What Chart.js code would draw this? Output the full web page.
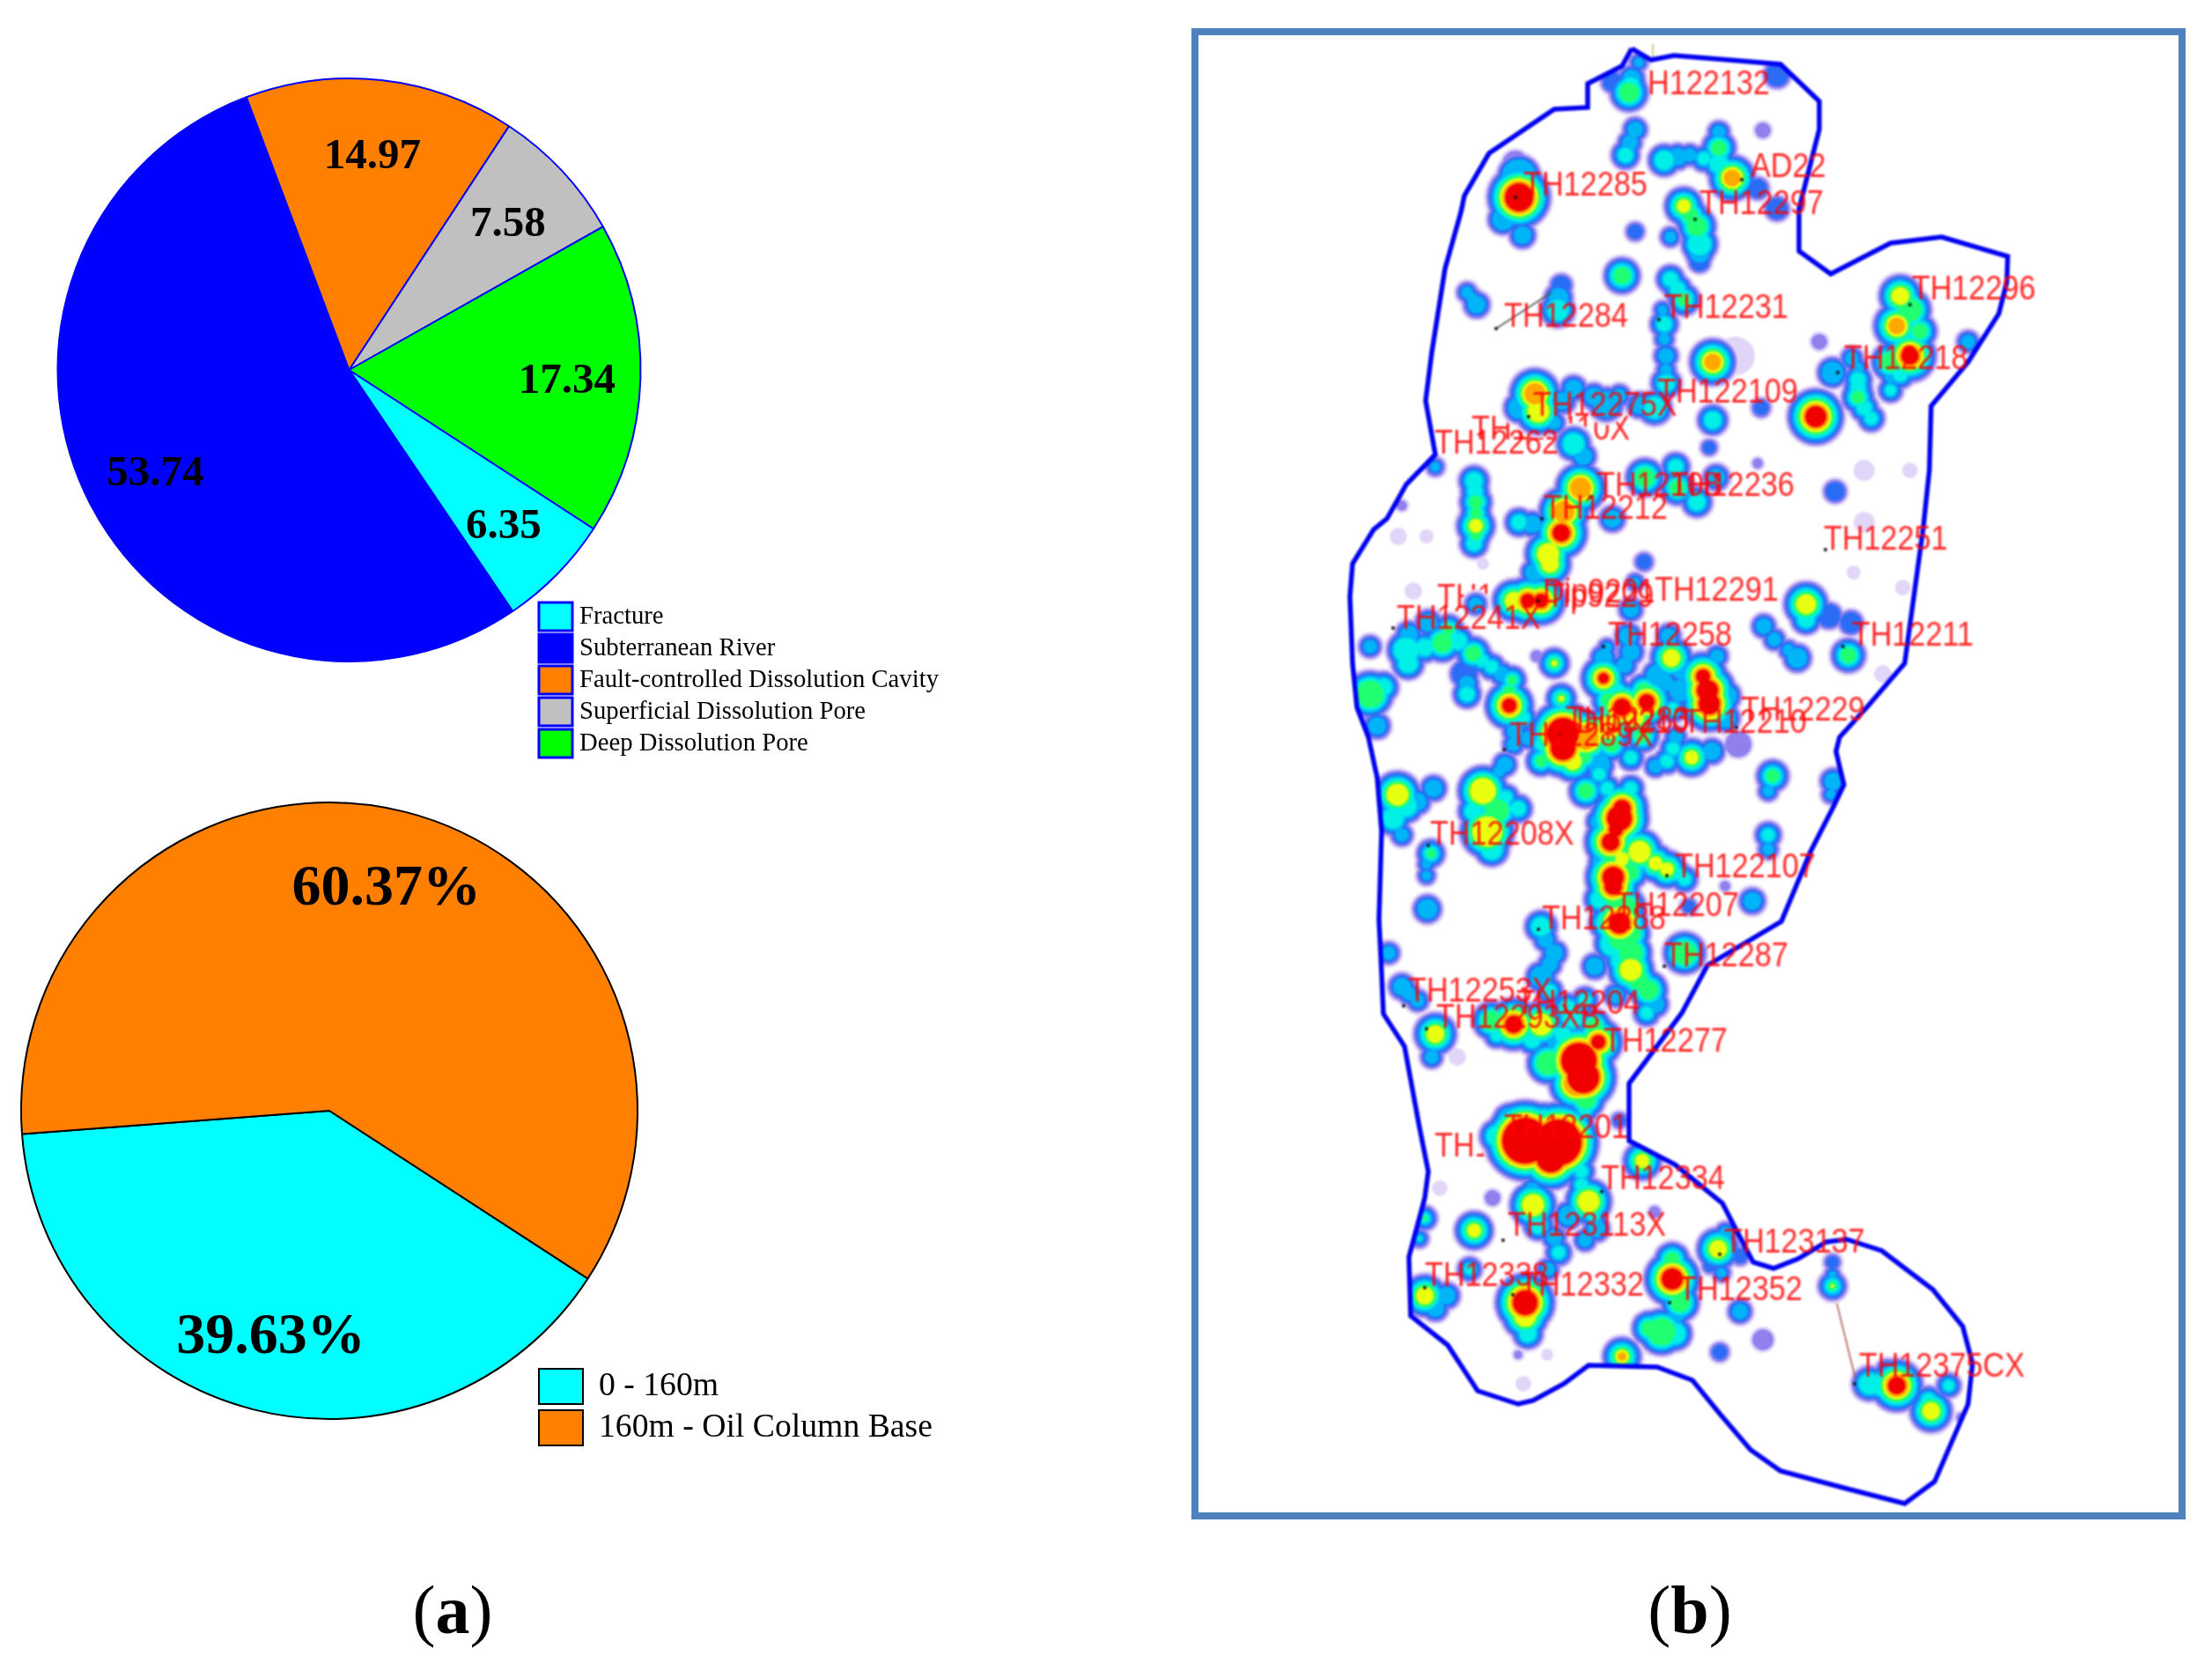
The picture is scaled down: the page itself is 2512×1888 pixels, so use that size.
<!DOCTYPE html>
<html>
<head>
<meta charset="utf-8">
<title>Reservoir space and well map</title>
<script src="https://cdn.jsdelivr.net/npm/chart.js@4"></script>
<style>
  html, body { margin: 0; background: #fff; }
  body { position: relative; width: 2512px; height: 1888px; overflow: hidden; }
  canvas { position: absolute; }
  #chartType { left: 0; top: 0; }
  #chartColumn { left: 0; top: 880px; }
  #frame { position: absolute; left: 1353px; top: 32px; width: 1129px; height: 1693px; box-sizing: border-box; border: 8px solid #4f81bd; overflow: hidden; }
  #chartMap { left: -8px; top: -8px; filter: blur(1.2px); }
  .caption { position: absolute; top: 1783px; font: 78px "Liberation Serif", serif; transform: translateX(-50%); }
  .caption b { font-weight: bold; }
</style>
</head>
<body>
<canvas id="chartType" width="1100" height="880"></canvas>
<canvas id="chartColumn" width="1100" height="800"></canvas>
<div id="frame"><canvas id="chartMap" width="1129" height="1693"></canvas></div>
<div class="caption" style="left:514px">(<b>a</b>)</div>
<div class="caption" style="left:1919px">(<b>b</b>)</div>

<script>
// pie 1
const typeLabels = ["Fracture", "Subterranean River", "Fault-controlled Dissolution Cavity", "Superficial Dissolution Pore", "Deep Dissolution Pore"];
const typeValues = [6.35, 53.74, 14.97, 7.58, 17.34];

// pie 2
const columnLabels = ["0 - 160m", "160m - Oil Column Base"];
const columnValues = [39.63, 60.37];

// map boundary (page px)
const boundary = [
  [1853,55],[1875,68],[1901,63],[1963,68],[2022,73],[2066,115],[2066,147],[2055,190],[2043,237],[2043,285],
  [2079,311],[2147,276],[2205,269],[2280,291],[2279,320],[2270,356],[2235,411],[2193,461],[2191,534],[2184,600],
  [2163,753],[2120,803],[2089,837],[2085,853],[2094,891],[2082,916],[2056,967],[2023,1046],[1939,1096],[1910,1150],
  [1850,1230],[1850,1295],[1902,1322],[1956,1366],[1971,1395],[1991,1433],[2014,1440],[2042,1429],[2074,1410],[2097,1407],
  [2137,1420],[2195,1464],[2229,1506],[2240,1548],[2235,1594],[2197,1682],[2163,1707],[2097,1690],[2022,1670],[1988,1646],
  [1953,1605],[1922,1567],[1882,1552],[1804,1550],[1776,1571],[1741,1590],[1724,1594],[1678,1579],[1644,1527],[1602,1494],
  [1600,1427],[1618,1360],[1622,1330],[1612,1280],[1595,1188],[1571,1151],[1569,1105],[1566,1044],[1569,944],[1564,883],
  [1554,837],[1541,803],[1536,753],[1533,677],[1536,640],[1560,601],[1575,589],[1597,550],[1630,516],[1619,455],
  [1626,400],[1641,305],[1659,241],[1663,222],[1691,174],[1765,124],[1803,122],[1803,95],[1842,75],[1853,55],
];

// heat spots: x, y, outer radius, top colour level
const heatSpots = [
  [1861,71,10,3],[1853,89,14,3],[1850,105,20,5],[1831,93,12,2],[2018,85,14,2],[1857,147,13,3],[1846,176,15,4],[2002,148,12,1],
  [1890,182,17,4],[1919,176,12,3],[1952,168,18,5],[1952,186,17,4],[1967,202,24,7],[1996,214,12,2],[2018,237,13,2],[1912,234,20,6],
  [1927,257,20,5],[1930,277,19,4],[1930,297,12,2],[1897,269,11,3],[1857,263,10,2],[1725,224,34,8],[1725,200,22,3],[1707,249,16,3],
  [1729,267,14,3],[1721,186,18,1],[1842,313,19,5],[1677,346,14,3],[1666,332,11,3],[1773,324,12,2],[1769,352,18,4],[1897,317,15,4],
  [1912,340,17,5],[1890,368,15,4],[1892,404,13,3],[1892,435,16,4],[1945,411,24,7],[2066,388,12,1],[1971,404,22,0],[2062,473,30,8],
  [2110,451,17,5],[2110,431,15,4],[2125,475,14,4],[2081,423,16,3],[2103,407,12,3],[2158,336,22,6],[2169,352,22,5],[2154,370,24,7],
  [2180,376,18,5],[2169,404,28,8],[2147,411,20,5],[2147,443,13,4],[2235,388,12,3],[2000,463,10,2],[1743,447,26,7],[1747,467,24,6],
  [1725,463,16,3],[1787,441,14,3],[1824,459,18,3],[1879,463,18,4],[1839,449,12,3],[1945,477,16,4],[1941,508,9,2],[1787,504,18,4],
  [1798,518,14,3],[1630,530,10,3],[1674,546,16,4],[1676,570,17,5],[1676,597,20,6],[1674,617,15,4],[1868,542,20,5],[1903,530,15,4],
  [1905,554,18,5],[1927,570,16,4],[1949,542,14,3],[1996,526,9,1],[2084,558,12,2],[1795,554,26,7],[1773,605,28,8],[1776,581,26,7],
  [1831,589,14,3],[1725,593,15,4],[1758,629,24,6],[1592,574,9,1],[1588,609,10,0],[1620,609,8,0],[2117,534,12,0],[2117,593,12,0],[2169,534,9,0],
  [1760,640,22,6],[1742,650,14,3],[1684,640,7,0],[1867,638,10,2],[1857,661,10,3],[1852,692,13,3],[1849,722,14,3],[1735,682,26,8],
  [1750,682,26,8],[1719,682,22,6],[1605,671,10,0],[1676,686,12,3],[1556,734,12,3],[1597,738,20,4],[1599,753,17,4],[1638,730,20,5],
  [1622,707,14,3],[1645,715,16,5],[1673,742,18,5],[1694,757,14,4],[1663,765,15,2],[1666,788,15,4],[1717,772,15,5],[1714,801,26,8],
  [1556,788,24,5],[1571,780,16,4],[1564,824,14,3],[1765,753,16,6],[1745,745,10,1],[1773,793,16,6],[1821,770,24,8],[1821,747,14,3],
  [1827,795,18,5],[1898,747,22,6],[1895,722,13,3],[1883,768,17,3],[1867,784,18,5],[1870,797,27,8],[1842,803,28,8],[1939,784,30,8],
  [1941,799,30,8],[1934,768,26,8],[1908,784,16,3],[1775,833,36,8],[1775,849,32,8],[1801,837,28,7],[1827,826,24,6],[1857,814,22,6],
  [1786,864,22,6],[1750,864,16,5],[1816,868,16,3],[1852,860,14,4],[1893,864,14,4],[1921,860,20,6],[1903,837,12,3],[1944,853,14,3],
  [1719,845,12,3],[1709,868,13,3],[1694,883,12,2],[1801,898,18,5],[1852,895,14,4],[1832,910,15,4],[1816,879,14,4],[1974,845,18,1],
  [2013,881,17,5],[2008,898,11,3],[2082,887,14,3],[2079,902,10,3],[2008,948,14,4],[2008,964,11,3],[2051,686,23,6],[2051,703,16,4],
  [2077,699,14,2],[2003,711,13,3],[2031,738,11,3],[2041,747,15,3],[2015,726,12,3],[2099,744,18,5],[2102,707,13,2],[2161,667,9,0],
  [2105,650,8,0],[2138,765,10,0],[1587,902,24,6],[1582,929,18,4],[1592,948,12,3],[1628,895,14,3],[1610,910,14,3],[1684,898,26,6],
  [1724,918,15,4],[1689,944,28,6],[1694,964,18,4],[1673,921,16,4],[1625,969,15,5],[1620,994,10,3],[1621,1032,15,3],[1839,929,32,8],
  [1842,918,28,8],[1829,956,28,8],[1862,967,24,6],[1893,987,20,6],[1913,998,14,4],[1832,996,30,8],[1832,1006,28,8],[1816,933,14,3],
  [1821,979,16,3],[1852,990,18,5],[1816,1021,16,4],[1839,1048,30,8],[1847,1029,20,5],[1824,1048,18,4],[1990,1023,14,3],[1959,1006,9,1],
  [1918,1029,9,2],[1750,1052,17,4],[1765,1082,14,3],[1750,1109,16,3],[1852,1082,22,5],[1852,1101,24,6],[1832,1071,20,4],[1872,1124,20,5],
  [1811,1097,14,3],[1913,1082,22,5],[1577,1082,12,3],[1592,1120,14,3],[1610,1136,12,3],[1630,1174,22,6],[1719,1163,28,8],[1694,1159,20,5],
  [1750,1163,24,6],[1786,1155,18,4],[1626,1200,12,3],[1655,1200,10,0],[1793,1204,38,8],[1798,1223,36,8],[1815,1183,26,8],[1801,1248,20,5],
  [1758,1207,22,5],[1770,1184,16,3],[1810,1165,18,5],[1839,1272,9,2],[1732,1295,44,8],[1770,1297,44,8],[1715,1272,18,3],[1753,1274,20,4],
  [1761,1315,34,8],[1741,1330,12,1],[1865,1318,20,6],[1796,1330,14,4],[1804,1364,24,6],[1813,1395,14,3],[1781,1380,15,3],[1741,1368,24,6],
  [1747,1391,16,4],[1695,1360,12,1],[1635,1349,9,0],[1618,1383,13,5],[1612,1406,10,5],[1674,1397,20,6],[1879,1376,10,1],[1770,1422,14,4],
  [1758,1441,12,3],[1669,1441,13,4],[1618,1471,22,6],[1643,1471,14,3],[1732,1479,32,8],[1732,1494,24,6],[1735,1514,16,4],[1899,1452,30,8],
  [1908,1479,20,5],[1951,1418,22,6],[1976,1426,10,2],[1942,1437,9,2],[1887,1512,24,5],[1902,1514,18,4],[1873,1508,18,5],[1976,1489,13,3],
  [1842,1540,20,7],[2081,1460,15,6],[2081,1433,9,2],[1953,1535,10,2],[2002,1521,15,1],[1724,1538,8,1],[1757,1538,7,0],[1730,1571,9,0],
  [2154,1573,28,8],[2123,1571,18,4],[2143,1556,12,2],[2213,1573,13,4],[2193,1602,22,6],[2226,1609,8,1],
  // strips between the main spots
  [1852,97,16,4],[1851,162,13,3],[1905,178,14,3],[1935,180,14,4],[1952,150,12,3],[1920,245,18,5],[1930,287,15,3],[1770,338,15,3],
  [1672,339,11,3],[1905,328,15,4],[1888,352,10,3],[1890,385,11,3],[1892,420,11,3],[2110,441,15,4],[2117,463,15,4],[2110,418,11,3],
  [2158,425,15,4],[2147,428,11,3],[1810,450,14,3],[1862,460,14,3],[1775,455,14,3],[1765,480,12,3],[1675,558,15,4],[1676,583,16,5],
  [1676,607,16,5],[1740,595,14,3],[1600,720,14,3],[1618,735,16,4],[1656,728,16,4],[1683,750,14,4],[1666,776,13,3],[1705,765,13,3],
  [1714,785,16,5],[1730,815,14,4],[1720,830,13,3],[1825,735,10,3],[1845,755,13,3],[1852,740,14,3],[1835,785,16,4],[1897,735,13,3],
  [1890,775,14,3],[1910,760,15,3],[1950,745,12,3],[1960,790,16,3],[1960,815,15,3],[1900,805,14,4],[1800,860,16,5],[1830,845,18,5],
  [1865,835,18,5],[1900,850,14,4],[1880,870,12,3],[1702,876,11,3],[1735,838,12,3],[1750,845,14,4],[1825,895,14,4],[1840,915,16,4],
  [1835,942,26,8],[1830,975,18,5],[1832,1020,18,5],[1842,975,20,6],[1880,980,20,6],[1905,992,14,4],[1840,1065,22,5],[1852,1060,20,5],
  [1842,1090,18,4],[1860,1112,20,5],[1880,1140,14,3],[1870,1150,14,4],[1620,981,10,3],[1597,915,18,4],[1700,920,22,5],[1710,905,14,4],
  [1755,1067,13,3],[1760,1095,13,3],[1760,1125,14,4],[1780,1145,16,4],[1800,1135,14,4],[1835,1130,13,3],[1600,1128,12,3],[1700,1175,14,4],
  [1740,1180,16,4],[1775,1175,16,4],[1790,1230,28,7],[1775,1230,15,4],[1800,1260,14,4],[1700,1290,18,4],[1720,1315,16,4],[1740,1350,12,3],
  [1796,1345,14,4],[1810,1380,14,4],[1800,1408,12,3],[1765,1405,13,3],[1899,1430,18,5],[1905,1490,14,3],[1735,1460,14,4],[1630,1485,14,3],
  [1960,1400,12,3],[1955,1445,10,3],[2081,1447,9,3],[2135,1572,18,4],[2190,1590,15,4],
];

const wellDots = [
  [1721,224],[1978,204],[1925,249],[2169,346],[1699,373],[1884,363],[2087,423],[1736,473],[1806,564],[1751,589],[2073,624],
  [1582,713],[1747,682],[1821,734],[2093,734],[1770,833],[1972,826],[1708,851],[1622,960],[1893,994],[1747,1055],[1890,1097],
  [1594,1142],[1620,1168],[1819,1353],[1707,1408],[1953,1424],[1618,1462],[1718,1470],[1896,1479],[2106,1571],
];

// wells: name, left x, mid y
const wellLabels = [
  ["H122132",1871,97],["AD22",1988,191],["TH12285",1730,212],["TH12297",1930,233],["TH12296",2171,330],["TH12284",1708,361],
  ["TH12231",1890,351],["TH12218",2094,409],["TH122109",1882,447],["TH12275X",1741,462],["TH12262",1629,505],["TH12108",1813,553],
  ["TH12236",1897,553],["TH12212",1753,579],["TH12251",2071,614],["TH12291",1879,672],["Dip9201",1752,674],["Tip9229",1756,679],
  ["TH12241X",1586,704],["TH12258",1826,723],["TH12211",2103,723],["TH12229",1977,808],["TH12210",1911,822],["TH12283",1778,819],
  ["Dip9210",1790,822],["TH12289X",1714,837],["TH12208X",1624,949],["TH122107",1902,986],["TH12207",1834,1030],["TH12288",1751,1045],
  ["TH12287",1890,1087],["TH12253X",1599,1127],["TH12204",1722,1141],["TH12293XB",1631,1157],["TH12277",1821,1184],["TH12201",1708,1282],
  ["TH12334",1818,1340],["TH123113X",1712,1393],["TH123137",1958,1412],["TH12338",1618,1450],["TH12332",1726,1461],["TH12352",1906,1466],
  ["TH12375CX",2111,1553],
];
// these sit under the heat colours in the picture
const buriedLabels = [["TH122110X",1671,489],["TH12242",1632,680],["TH12202X",1629,1303]];

const leaderLines = [
  { color: "#555", points: [[1699,373],[1762,332]] },
  { color: "#a5524a", points: [[2086,1480],[2107,1565]] },
  { color: "#b5c27a", points: [[1877,50],[1877,68]] },
];

const heatColors = ["#e2d6f8", "#8f80ee", "#2a6cf5", "#00b4f8", "#00f0e8", "#20ff70", "#e8ff10", "#ffa800", "#f00000"];
const heatStep = 3;

const toXY = ([x, y]) => ({ x, y });

const pieLegend = {
  id: "pieLegend",
  afterDraw(chart, args, o) {
    const ctx = chart.ctx;
    const ds = chart.data.datasets[0];
    ctx.save();
    ctx.font = o.fontSize + 'px "Liberation Serif", serif';
    ctx.textBaseline = "middle";
    chart.data.labels.forEach((label, i) => {
      const y = o.y + i * o.pitch;
      ctx.fillStyle = ds.backgroundColor[i];
      ctx.fillRect(o.x, y, o.boxW, o.boxH);
      ctx.strokeStyle = ds.borderColor;
      ctx.lineWidth = o.line;
      ctx.strokeRect(o.x, y, o.boxW, o.boxH);
      ctx.fillStyle = "#000";
      ctx.fillText(label, o.textX, y + o.boxH / 2);
    });
    ctx.restore();
  },
};

const pieValueLabels = {
  id: "pieValueLabels",
  afterDatasetsDraw(chart, args, o) {
    const ctx = chart.ctx;
    const arc = chart.getDatasetMeta(0).data[0];
    ctx.save();
    ctx.font = "bold " + o.fontSize + 'px "Liberation Serif", serif';
    ctx.fillStyle = "#000";
    ctx.textAlign = "center";
    ctx.textBaseline = "middle";
    chart.data.datasets[0].data.forEach((v, i) => {
      ctx.fillText(v.toFixed(2) + o.suffix, arc.x + o.at[i][0] * arc.outerRadius, arc.y + o.at[i][1] * arc.outerRadius);
    });
    ctx.restore();
  },
};

function makePie(id, labels, values, colors, border, borderWidth, radius, padding, labelOpts, legendOpts) {
  return new Chart(document.getElementById(id), {
    type: "pie",
    data: {
      labels,
      datasets: [{ data: values, backgroundColor: colors, borderColor: border, borderWidth, radius, rotation: 123 }],
    },
    options: {
      responsive: false,
      animation: false,
      events: [],
      layout: { padding, autoPadding: false },
      plugins: {
        legend: { display: false },
        tooltip: { enabled: false },
        pieValueLabels: labelOpts,
        pieLegend: legendOpts,
      },
    },
    plugins: [pieValueLabels, pieLegend],
  });
}

makePie("chartType", typeLabels, typeValues, ["#00ffff", "#0000ff", "#ff8000", "#c0c0c0", "#00ff00"], "#0000ff", 2, 331,
  { right: 307, bottom: 40 },
  { fontSize: 49, suffix: "", at: [[0.53, 0.54], [-0.665, 0.358], [0.08, -0.73], [0.545, -0.497], [0.747, 0.039]] },
  { x: 612, y: 684, boxW: 38, boxH: 32, pitch: 36, line: 3, textX: 658, fontSize: 28.7 });

makePie("chartColumn", columnLabels, columnValues, ["#00ffff", "#ff8000"], "#000000", 2, 350,
  { right: 352, bottom: 38 },
  { fontSize: 66, suffix: "%", at: [[-0.19, 0.736], [0.185, -0.716]] },
  { x: 612, y: 674, boxW: 50, boxH: 40, pitch: 47, line: 2, textX: 680, fontSize: 37.7 });

// each colour level is one bubble layer, so neighbouring spots merge into contours
function spotRadius(s) {
  if (s[3] === 8) return s[2] + 6;
  if (s[3] < 2) return s[2];
  return s[2] * 1.15 + 3;
}
const heatDatasets = heatColors.map((color, level) => ({
  type: "bubble",
  order: 20 - level,
  backgroundColor: color,
  borderWidth: 0,
  data: heatSpots
    .filter((s) => s[3] >= level && spotRadius(s) - level * heatStep > 0)
    .map((s) => ({ x: s[0], y: s[1], r: spotRadius(s) - level * heatStep })),
}));

// keep the heat layers inside the boundary
const boundaryClip = {
  id: "boundaryClip",
  beforeDatasetDraw(chart, args) {
    if (args.meta.type !== "bubble") return;
    const { ctx, scales } = chart;
    ctx.save();
    ctx.beginPath();
    boundary.forEach(([x, y], i) => {
      const px = scales.x.getPixelForValue(x);
      const py = scales.y.getPixelForValue(y);
      if (i === 0) ctx.moveTo(px, py);
      else ctx.lineTo(px, py);
    });
    ctx.clip();
  },
  afterDatasetDraw(chart, args) {
    if (args.meta.type === "bubble") chart.ctx.restore();
  },
};

function drawWellNames(chart, list) {
  const ctx = chart.ctx;
  ctx.save();
  ctx.font = '38px "Liberation Sans", sans-serif';
  ctx.fillStyle = "rgba(255, 0, 0, 0.85)";
  ctx.textBaseline = "middle";
  list.forEach(([name, x, y]) => {
    ctx.save();
    ctx.translate(chart.scales.x.getPixelForValue(x), chart.scales.y.getPixelForValue(y));
    ctx.scale(0.9, 1);
    ctx.fillText(name, 0, 0);
    ctx.restore();
  });
  ctx.restore();
}

const wellNames = {
  id: "wellNames",
  beforeDatasetsDraw(chart) { drawWellNames(chart, buriedLabels); },
  afterDatasetsDraw(chart) { drawWellNames(chart, wellLabels); },
};

new Chart(document.getElementById("chartMap"), {
  data: {
    datasets: [
      ...heatDatasets,
      ...leaderLines.map((l) => ({
        type: "line", order: 3, data: l.points.map(toXY), borderColor: l.color, borderWidth: 1.5, pointRadius: 0,
      })),
      { type: "line", order: 2, data: boundary.map(toXY), borderColor: "#0000f0", borderWidth: 5.5, pointRadius: 0, tension: 0 },
      { type: "scatter", order: 1, data: wellDots.map(toXY), backgroundColor: "#111", pointRadius: 2, borderWidth: 0 },
    ],
  },
  options: {
    responsive: false,
    animation: false,
    events: [],
    layout: { autoPadding: false },
    scales: {
      x: { type: "linear", display: false, min: 1353, max: 2482 },
      y: { type: "linear", display: false, min: 32, max: 1725, reverse: true },
    },
    plugins: { legend: { display: false }, tooltip: { enabled: false } },
  },
  plugins: [boundaryClip, wellNames],
});
</script>
</body>
</html>
